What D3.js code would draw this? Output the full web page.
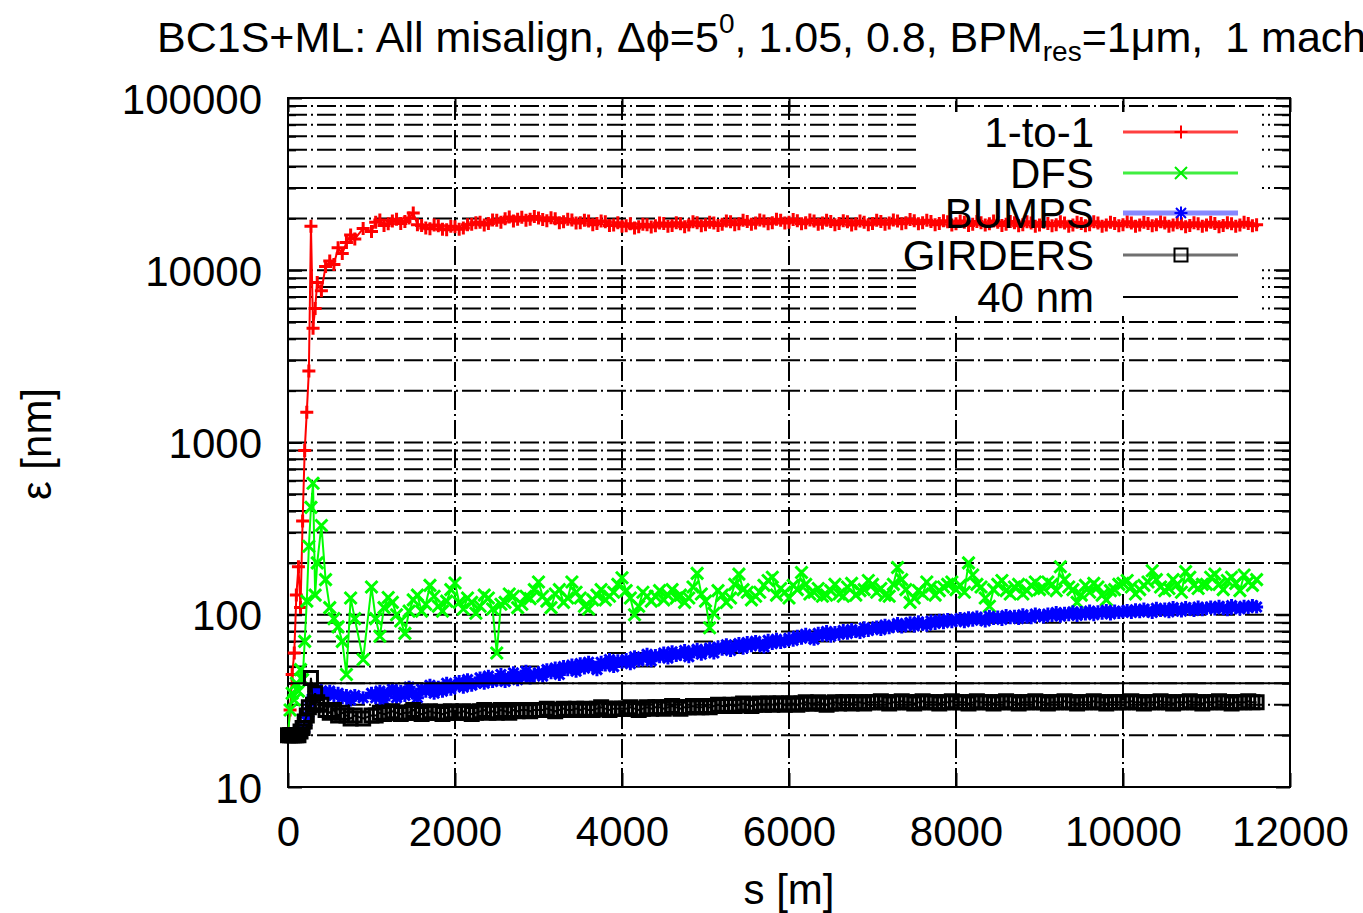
<!DOCTYPE html>
<html>
<head>
<meta charset="utf-8">
<script src="https://cdn.jsdelivr.net/npm/d3@7"></script>
<style>
  body { margin: 0; background: #fff; }
  svg { display: block; }
  text { font-family: "Liberation Sans", Arial, Helvetica, sans-serif; fill: #000; }
</style>
</head>
<body>
<svg id="chart" width="1363" height="913"></svg>
<script>
// beam position s [m] of each sample
const sPos = [0, 25, 50, 75, 100, 125, 150, 175, 200, 225, 250, 275, 300, 325, 350,
  400, 450, 500, 550, 600, 650, 700, 750, 800, 900, 1000,
  1050, 1100, 1150, 1200, 1250, 1300, 1350, 1400, 1450, 1500, 1550, 1600, 1650, 1700, 1750, 1800, 1850, 1900, 1950, 2000,
  2050, 2100, 2150, 2200, 2250, 2300, 2350, 2400, 2450, 2500, 2550, 2600, 2650, 2700, 2750, 2800, 2850, 2900, 2950, 3000,
  3050, 3100, 3150, 3200, 3250, 3300, 3350, 3400, 3450, 3500, 3550, 3600, 3650, 3700, 3750, 3800, 3850, 3900, 3950, 4000,
  4050, 4100, 4150, 4200, 4250, 4300, 4350, 4400, 4450, 4500, 4550, 4600, 4650, 4700, 4750, 4800, 4850, 4900, 4950, 5000,
  5050, 5100, 5150, 5200, 5250, 5300, 5350, 5400, 5450, 5500, 5550, 5600, 5650, 5700, 5750, 5800, 5850, 5900, 5950, 6000,
  6050, 6100, 6150, 6200, 6250, 6300, 6350, 6400, 6450, 6500, 6550, 6600, 6650, 6700, 6750, 6800, 6850, 6900, 6950, 7000,
  7050, 7100, 7150, 7200, 7250, 7300, 7350, 7400, 7450, 7500, 7550, 7600, 7650, 7700, 7750, 7800, 7850, 7900, 7950, 8000,
  8050, 8100, 8150, 8200, 8250, 8300, 8350, 8400, 8450, 8500, 8550, 8600, 8650, 8700, 8750, 8800, 8850, 8900, 8950, 9000,
  9050, 9100, 9150, 9200, 9250, 9300, 9350, 9400, 9450, 9500, 9550, 9600, 9650, 9700, 9750, 9800, 9850, 9900, 9950, 10000,
  10050, 10100, 10150, 10200, 10250, 10300, 10350, 10400, 10450, 10500, 10550, 10600, 10650, 10700, 10750, 10800, 10850, 10900, 10950, 11000,
  11050, 11100, 11150, 11200, 11250, 11300, 11350, 11400, 11450, 11500, 11550, 11600];

// emittance [nm] per correction scheme
const epsOneToOne = [20, 28, 45, 60, 130, 190, 110, 350, 900, 1500, 2600, 18000, 4600, 6000, 8500,
  7600, 10500, 11300, 10800, 13500, 12500, 14500, 16000, 15200, 17500, 16800,
  19000, 19600, 18200, 18600, 19300, 19800, 18700, 19200, 20100, 21500, 18400, 18200, 17600, 17400, 18300, 18100, 17300, 17200, 18000, 17900,
  17300, 17600, 18400, 18500, 18900, 19000, 18300, 18700, 19600, 19500, 19000, 19900, 20400, 19300, 19800, 20300, 19500, 19800, 20500, 20100,
  19700, 19400, 20200, 19900, 18900, 19100, 19800, 19600, 18800, 18900, 19500, 19300, 18400, 18700, 19300, 19100, 18200, 18300, 18900, 18000,
  18100, 18600, 17600, 17900, 18500, 18400, 17800, 18100, 18800, 18700, 18000, 18200, 18900, 18600, 17900, 18300, 19100, 18900, 18100, 18400,
  19000, 18800, 18200, 18500, 19300, 19100, 18400, 18600, 19500, 19200, 18500, 18800, 19600, 19300, 18600, 18900, 19800, 19500, 18800, 19000,
  19700, 19400, 18600, 18900, 19600, 19300, 18500, 18800, 19500, 19200, 18400, 18700, 19400, 19100, 18300, 18600, 19300, 19000, 18400, 18700,
  19500, 19200, 18500, 18800, 19600, 19300, 18600, 18900, 19700, 19400, 18600, 18900, 19500, 19200, 18400, 18700, 19400, 19100, 18300, 18600,
  19300, 19000, 18200, 18500, 19200, 18900, 18300, 18600, 19300, 19000, 18200, 18500, 19200, 18900, 18100, 18400, 19100, 18800, 18000, 18300,
  19000, 18700, 18100, 18400, 19100, 18800, 18000, 18300, 19000, 18700, 18100, 18400, 19100, 18800, 18000, 18300, 19000, 18700, 18100, 18400,
  19100, 18800, 18000, 18300, 19000, 18700, 18100, 18400, 19100, 18800, 18000, 18300, 18900, 18600, 17900, 18200, 18900, 18600, 18000, 18300,
  19000, 18700, 17900, 18200, 18900, 18600, 18000, 18300, 19000, 18700, 18100, 18400];

const epsDFS = [20, 28, 35, 32, 40, 36, 48, 42, 70, 120, 250, 420, 580, 130, 200,
  330, 160, 110, 95, 85, 70, 45, 125, 95, 55, 145,
  95, 75, 110, 126, 118, 100, 92, 78, 105, 122, 130, 105, 115, 148, 128, 112, 105, 120, 140, 153,
  118, 108, 125, 118, 102, 112, 130, 125, 108, 60, 115, 118, 132, 128, 110, 115, 128, 124, 140, 155,
  128, 120, 110, 132, 140, 118, 125, 155, 135, 125, 112, 108, 122, 130, 140, 122, 128, 135, 150, 164,
  138, 125, 100, 112, 135, 128, 120, 128, 138, 122, 130, 140, 125, 130, 118, 125, 145, 174, 132, 120,
  84, 102, 138, 130, 118, 125, 150, 172, 140, 135, 122, 128, 135, 148, 158, 165, 130, 142, 135, 125,
  148, 140, 176, 150, 132, 135, 142, 128, 130, 138, 150, 132, 128, 145, 152, 130, 138, 140, 158, 150,
  135, 142, 130, 128, 150, 188, 160, 140, 118, 125, 138, 132, 155, 145, 130, 138, 145, 150, 155, 140,
  148, 135, 200, 170, 150, 145, 125, 112, 140, 150, 158, 138, 132, 145, 150, 132, 138, 148, 155, 140,
  142, 155, 150, 138, 190, 160, 145, 140, 118, 130, 148, 135, 152, 145, 130, 122, 138, 140, 150, 152,
  158, 145, 132, 140, 148, 155, 180, 160, 145, 138, 142, 160, 150, 135, 178, 165, 148, 142, 150, 150,
  165, 172, 150, 140, 158, 165, 152, 138, 170, 155, 148, 160];

const epsBumps = [20, 20, 20, 20, 20, 20, 21, 21, 22, 24, 27, 31, 34, 36, 37,
  36, 35, 36, 34, 35, 33, 34, 32, 34, 33, 35,
  33, 36, 32, 35, 37, 33, 36, 34, 38, 35, 33, 37, 36, 39, 35, 38, 36, 40, 37, 39,
  41, 38, 42, 39, 40, 43, 40, 44, 41, 42, 45, 41, 43, 46, 42, 44, 47, 43, 45, 46,
  44, 48, 46, 49, 45, 50, 48, 51, 47, 52, 49, 53, 50, 48, 53, 51, 55, 50, 54, 53,
  55, 52, 57, 54, 56, 59, 54, 58, 57, 60, 56, 61, 58, 59, 62, 57, 61, 63, 59, 62,
  64, 60, 65, 63, 67, 62, 66, 68, 64, 69, 66, 70, 67, 65, 71, 68, 72, 69, 70, 73,
  71, 75, 73, 77, 74, 72, 78, 76, 80, 75, 79, 77, 81, 78, 82, 80, 79, 84, 81, 83,
  85, 82, 87, 84, 86, 89, 85, 88, 90, 86, 91, 88, 87, 92, 89, 93, 90, 94, 91, 93,
  95, 91, 96, 93, 97, 94, 92, 98, 95, 97, 94, 99, 96, 98, 95, 100, 97, 96, 101, 99,
  97, 101, 99, 103, 98, 102, 100, 104, 99, 103, 101, 105, 100, 104, 102, 106, 101, 105, 103, 104,
  106, 103, 107, 104, 108, 105, 103, 109, 106, 108, 104, 110, 107, 105, 110, 108, 106, 111, 107, 109,
  111, 108, 112, 109, 107, 113, 110, 108, 112, 110, 113, 111];

const epsGirders = [20, 20, 20, 20, 20, 20, 21, 22, 24, 26, 29, 43, 30, 35, 31,
  30, 28, 27, 28, 26, 27, 26, 25, 26, 25, 26,
  26, 27, 26.5, 27, 27.5, 27, 26.5, 27, 27, 28, 27, 26.5, 27, 27.5, 27, 27, 26.5, 27, 27.5, 27,
  27, 27.5, 27, 26.5, 27, 27.5, 28, 27, 27.5, 27, 28, 27.5, 27, 28, 27.5, 28, 28, 27.5, 28, 28,
  28, 28.5, 28, 27.5, 28, 28.5, 28, 28, 28.5, 28, 28.5, 28, 28, 28.5, 29, 28.5, 28, 28.5, 28.5, 28.5,
  28.5, 29, 28.5, 28, 28.5, 29, 28.5, 29, 29, 28.5, 29, 29.5, 29, 28.5, 29, 29, 29.5, 29, 29, 29.5,
  29, 29.5, 30, 29.5, 29.5, 30, 29.5, 30, 30.5, 30, 29.5, 30, 30.5, 30, 30.5, 30, 30.5, 30.5, 30, 30.5,
  30.5, 30, 30.5, 31, 30.5, 30.5, 31, 30.5, 30, 30.5, 31, 30.5, 31, 31, 30.5, 31, 31, 30.5, 31, 31,
  31, 31.5, 31, 30.5, 31, 31, 31.5, 31, 31, 30.5, 31, 31.5, 31, 31, 31, 30.5, 31, 31, 31.5, 31,
  31, 31, 30.5, 31, 31.5, 31, 31, 31, 30.5, 31, 31, 31.5, 31, 31, 30.5, 31, 31, 31, 31.5, 31,
  31, 30.5, 31, 31, 31, 31.5, 31, 31, 30.5, 31, 31, 31, 31.5, 31, 31, 30.5, 31, 31, 31, 31,
  31, 31.5, 31, 31, 30.5, 31, 31, 31, 31.5, 31, 31, 30.5, 31, 31, 31, 31.5, 31, 31, 30.5, 31,
  31, 31, 31.5, 31, 31, 30.5, 31, 31, 31, 31.5, 31, 31];

const refLevel = 40;

const seriesNames = ["1-to-1", "DFS", "BUMPS", "GIRDERS", "40 nm"];
const seriesColors = ["#ff0000", "#00ff00", "#0000ff", "#000000", "#000000"];
const xTickValues = [0, 2000, 4000, 6000, 8000, 10000, 12000];
const yDecades = [10, 100, 1000, 10000, 100000];

const svg = d3.select("#chart");
const plot = { left: 288, right: 1290, top: 98, bottom: 787 };

const x = d3.scaleLinear().domain([0, 12000]).range([plot.left, plot.right]);
const y = d3.scaleLog().domain([10, 100000]).range([plot.bottom, plot.top]);

const allYTicks = y.ticks();
const minorY = allYTicks.filter(v => !yDecades.includes(v));

// grid
const grid = svg.append("g").attr("stroke", "#000").attr("stroke-width", 2)
  .attr("stroke-dasharray", "19,4,2,4").attr("fill", "none");
grid.selectAll("line.h").data(allYTicks.filter(v => v > 10 && v < 100000)).enter()
  .append("line").attr("class", "h")
  .attr("x1", plot.left).attr("x2", plot.right)
  .attr("y1", d => y(d)).attr("y2", d => y(d));
grid.selectAll("line.v").data(xTickValues.filter(v => v > 0 && v < 12000)).enter()
  .append("line").attr("class", "v")
  .attr("x1", d => x(d)).attr("x2", d => x(d))
  .attr("y1", plot.bottom).attr("y2", plot.top);

// key background
svg.append("rect").attr("x", 918).attr("y", 112).attr("width", 344).attr("height", 204)
  .attr("fill", "#fff");

// axes ticks (inward)
function tickAxis(axis, tx, ty) {
  const g = svg.append("g").attr("transform", `translate(${tx},${ty})`).call(axis);
  g.select(".domain").remove();
  g.selectAll("line").attr("stroke", "#000").attr("stroke-width", 2);
  return g;
}
tickAxis(d3.axisLeft(y).tickValues(yDecades).tickSize(-14).tickFormat(""), plot.left, 0);
tickAxis(d3.axisLeft(y).tickValues(minorY).tickSize(-8).tickFormat(""), plot.left, 0);
tickAxis(d3.axisRight(y).tickValues(yDecades).tickSize(-14).tickFormat(""), plot.right, 0);
tickAxis(d3.axisRight(y).tickValues(minorY).tickSize(-8).tickFormat(""), plot.right, 0);
tickAxis(d3.axisBottom(x).tickValues(xTickValues).tickSize(-14).tickFormat(""), 0, plot.bottom);
tickAxis(d3.axisTop(x).tickValues(xTickValues).tickSize(-14).tickFormat(""), 0, plot.top);

// tick labels
const yLab = svg.append("g").attr("transform", `translate(${plot.left},0)`)
  .call(d3.axisLeft(y).tickValues(yDecades).tickSize(0).tickPadding(26).tickFormat(d3.format("d")));
yLab.select(".domain").remove();
yLab.selectAll("text").attr("font-size", 42).attr("font-family", null).attr("dy", "0.36em");

const xLab = svg.append("g").attr("transform", `translate(0,${plot.bottom})`)
  .call(d3.axisBottom(x).tickValues(xTickValues).tickSize(0).tickPadding(29).tickFormat(d3.format("d")));
xLab.select(".domain").remove();
xLab.selectAll("text").attr("font-size", 42).attr("font-family", null);

// border
svg.append("rect").attr("x", plot.left).attr("y", plot.top)
  .attr("width", plot.right - plot.left).attr("height", plot.bottom - plot.top)
  .attr("fill", "none").attr("stroke", "#000").attr("stroke-width", 2);

// markers
const markerPaths = {
  plus: "M-6.5,0H6.5M0,-6.5V6.5",
  cross: "M-6,-6L6,6M-6,6L6,-6",
  star: "M-6.5,0H6.5M0,-6.5V6.5M-5,-5L5,5M-5,5L5,-5",
  square: "M-6.5,-6.5H6.5V6.5H-6.5Z"
};

const series = [
  { values: epsOneToOne, color: seriesColors[0], marker: "plus" },
  { values: epsDFS, color: seriesColors[1], marker: "cross" },
  { values: epsBumps, color: seriesColors[2], marker: "star" },
  { values: epsGirders, color: seriesColors[3], marker: "square" }
];

const line = d3.line().x(d => x(d[0])).y(d => y(d[1]));

series.forEach(sr => {
  const pts = sPos.map((s, i) => [s, sr.values[i]]);
  const g = svg.append("g");
  g.append("path").datum(pts).attr("d", line)
    .attr("fill", "none").attr("stroke", sr.color).attr("stroke-width", 2);
  g.selectAll("path.m").data(pts).enter().append("path").attr("class", "m")
    .attr("d", markerPaths[sr.marker])
    .attr("transform", d => `translate(${x(d[0])},${y(d[1])})`)
    .attr("fill", "none").attr("stroke", sr.color).attr("stroke-width", 3);
});

// 40 nm reference line
svg.append("line").attr("x1", x(0)).attr("x2", x(12000))
  .attr("y1", y(refLevel)).attr("y2", y(refLevel))
  .attr("stroke", "#000").attr("stroke-width", 2);

// key
const keyRows = [132, 173, 213, 255, 297];
const keyLine = [
  { stroke: "#ff4040", width: 3, marker: "plus", mcolor: "#ff0000" },
  { stroke: "#40ee40", width: 3, marker: "cross", mcolor: "#00ee00" },
  { stroke: "#8888ff", width: 5, marker: "star", mcolor: "#0000ff" },
  { stroke: "#707070", width: 3, marker: "square", mcolor: "#000" },
  { stroke: "#000", width: 2, marker: null, mcolor: "#000" }
];
seriesNames.forEach((name, i) => {
  const yy = keyRows[i];
  svg.append("text").attr("x", 1094).attr("y", yy).attr("dy", "0.36em")
    .attr("text-anchor", "end").attr("font-size", 42).text(name);
  svg.append("line").attr("x1", 1123).attr("x2", 1238).attr("y1", yy).attr("y2", yy)
    .attr("stroke", keyLine[i].stroke).attr("stroke-width", keyLine[i].width);
  if (keyLine[i].marker) {
    svg.append("path").attr("d", markerPaths[keyLine[i].marker])
      .attr("transform", `translate(1181,${yy})`)
      .attr("fill", "none").attr("stroke", keyLine[i].mcolor).attr("stroke-width", 2);
  }
});

// title and axis labels
const title = svg.append("text").attr("x", 157).attr("y", 52).attr("font-size", 43);
title.append("tspan").text("BC1S+ML: All misalign, \u0394\u03d5=5");
title.append("tspan").attr("dy", -19).attr("font-size", 28).text("0");
title.append("tspan").attr("dy", 19).text(", 1.05, 0.8, BPM");
title.append("tspan").attr("dy", 9).attr("font-size", 28).text("res");
title.append("tspan").attr("dy", -9).text("=1\u03bcm,");
title.append("tspan").attr("dx", 10).text(" 1 machine");

svg.append("text").attr("x", 789).attr("y", 904).attr("text-anchor", "middle")
  .attr("font-size", 42).text("s [m]");

svg.append("text").attr("transform", "translate(51,444) rotate(-90)")
  .attr("text-anchor", "middle").attr("font-size", 42).text("\u03b5 [nm]");
</script>
</body>
</html>
